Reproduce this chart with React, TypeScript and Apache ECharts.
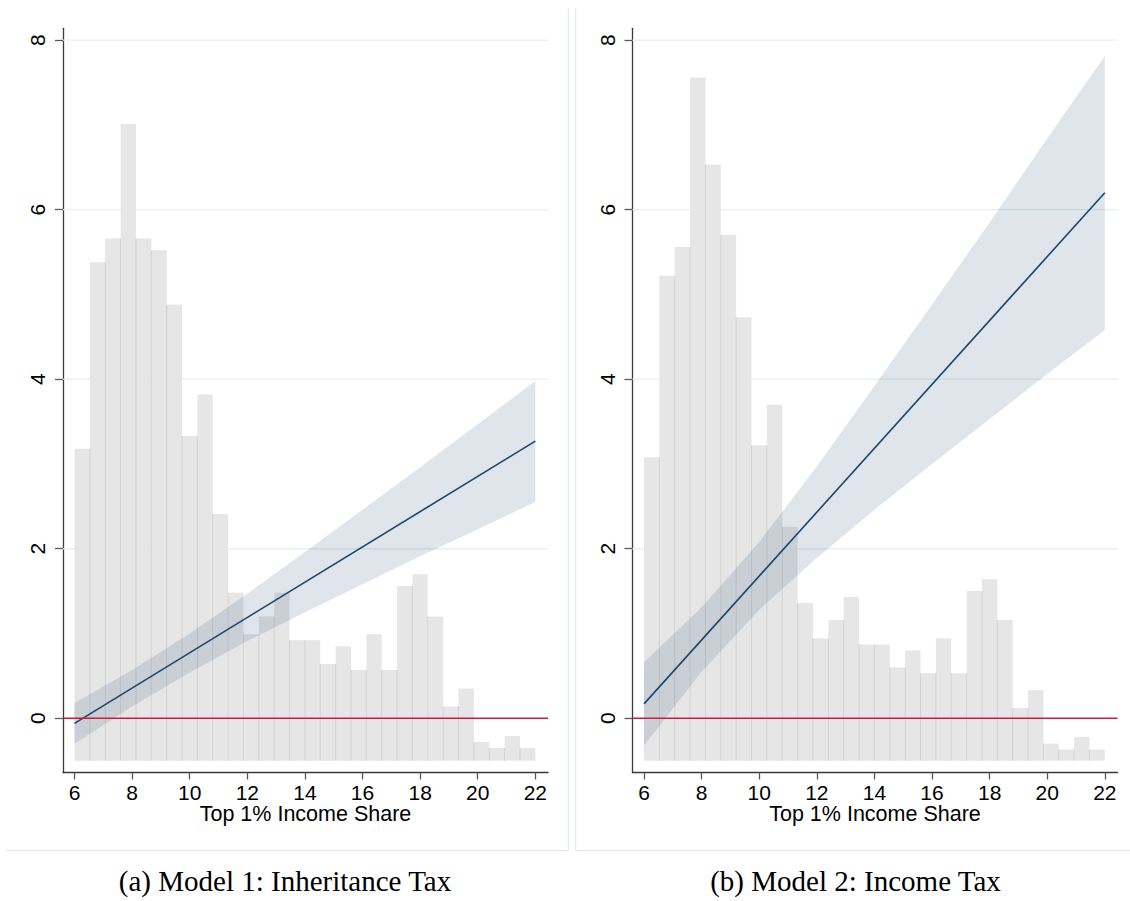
import React, { useEffect, useRef } from "react";
import * as echarts from "echarts";

// ---------- data ----------
const X_TICKS = [6, 8, 10, 12, 14, 16, 18, 20, 22];
const Y_TICKS = [0, 2, 4, 6, 8];
const GRID_VALUES = [2, 4, 6, 8];
const X_MIN = 5.6;
const X_MAX = 22.44;
const Y_MIN = -0.64;
const Y_MAX = 8.14;

const BIN_START = 6;
const BIN_WIDTH = 16 / 30;
const HIST_BASE = -0.5;

const histA = [3.18, 5.38, 5.66, 7.01, 5.66, 5.52, 4.88, 3.33, 3.82, 2.41, 1.48, 0.99, 1.2, 1.48, 0.92, 0.92, 0.64, 0.85, 0.57, 0.99, 0.57, 1.56, 1.7, 1.2, 0.14, 0.35, -0.28, -0.35, -0.21, -0.35];
const histB = [3.08, 5.22, 5.56, 7.56, 6.53, 5.7, 4.73, 3.22, 3.7, 2.26, 1.36, 0.94, 1.16, 1.43, 0.87, 0.87, 0.6, 0.8, 0.53, 0.94, 0.53, 1.5, 1.64, 1.16, 0.12, 0.33, -0.3, -0.37, -0.22, -0.37];

const fitA = [[6, -0.06], [22, 3.27]];
const fitB = [[6, 0.17], [22, 6.2]];

const bandX = [6, 8, 10, 12, 14, 16, 18, 20, 22];
const bandAUpper = [0.18, 0.57, 1.0, 1.47, 1.96, 2.46, 2.96, 3.47, 3.98];
const bandALower = [-0.3, 0.14, 0.54, 0.91, 1.25, 1.58, 1.91, 2.23, 2.55];
const bandBUpper = [0.66, 1.31, 2.08, 2.97, 3.92, 4.88, 5.85, 6.84, 7.81];
const bandBLower = [-0.32, 0.55, 1.28, 1.89, 2.46, 3.0, 3.53, 4.06, 4.58];

const REF_LINE = 0;
const X_TITLE = "Top 1% Income Share";
const CAPTION_A = "(a) Model 1: Inheritance Tax";
const CAPTION_B = "(b) Model 2: Income Tax";

// ---------- styles ----------
const SANS = "'Liberation Sans', Arial, Helvetica, sans-serif";
const SERIF = "'Liberation Serif', 'Times New Roman', serif";
const AXIS_COLOR = "#3a3a3a";
const TICK_COLOR = "#5a5a5a";
const GRID_COLOR = "#e8eff1";
const BAR_FILL = "#e6e6e6";
const BAR_EDGE = "#d2d2d2";
const BAND_FILL = "rgba(26,71,111,0.14)";
const LINE_COLOR = "#1a476f";
const RED = "#cd1c44";
const FRAME = "#e3eaed";

function makeAxes(gridIndex: number) {
  const x = {
    type: "value",
    gridIndex,
    min: X_MIN,
    max: X_MAX,
    axisLine: { show: true, onZero: false, lineStyle: { color: AXIS_COLOR, width: 1.3 } },
    axisTick: { show: true, length: 7, customValues: X_TICKS, lineStyle: { color: TICK_COLOR, width: 1.3 } },
    axisLabel: { show: true, customValues: X_TICKS, fontSize: 21, margin: 9, color: "#000", fontFamily: SANS },
    splitLine: { show: false },
    name: X_TITLE,
    nameLocation: "middle",
    nameGap: 30,
    nameMoveOverlap: false,
    nameTextStyle: { fontSize: 21.5, color: "#000", fontFamily: SANS },
  };
  const y = {
    type: "value",
    gridIndex,
    min: Y_MIN,
    max: Y_MAX,
    axisLine: { show: true, onZero: false, lineStyle: { color: AXIS_COLOR, width: 1.3 } },
    axisTick: { show: true, length: 8, customValues: Y_TICKS, lineStyle: { color: TICK_COLOR, width: 1.3 } },
    axisLabel: { show: true, customValues: Y_TICKS, rotate: 90, fontSize: 21, margin: 15, color: "#000", fontFamily: SANS },
    splitLine: { show: false },
  };
  return { x, y };
}

function makeSeries(idx: number, hist: number[], fit: number[][], up: number[], lo: number[]) {
  const grid = {
    type: "custom",
    xAxisIndex: idx,
    yAxisIndex: idx,
    z: 1,
    silent: true,
    data: GRID_VALUES.map((v) => [v]),
    renderItem: (params: any, api: any) => {
      const v = api.value(0);
      const a = api.coord([X_MIN, v]);
      const b = api.coord([X_MAX, v]);
      return { type: "line", shape: { x1: a[0], y1: a[1], x2: b[0], y2: b[1] }, style: { stroke: GRID_COLOR, lineWidth: 1.3 } };
    },
  };
  const bars = {
    type: "custom",
    xAxisIndex: idx,
    yAxisIndex: idx,
    z: 2,
    silent: true,
    data: hist.map((v, i) => [i, v]),
    renderItem: (params: any, api: any) => {
      const i = api.value(0);
      const v = api.value(1);
      const x0 = BIN_START + i * BIN_WIDTH;
      const x1 = x0 + BIN_WIDTH;
      const p0 = api.coord([x0, HIST_BASE]);
      const p1 = api.coord([x1, v]);
      const children: any[] = [
        {
          type: "rect",
          shape: { x: p0[0], y: p1[1], width: p1[0] - p0[0], height: p0[1] - p1[1] },
          style: { fill: BAR_FILL },
        },
      ];
      if (i > 0) {
        const m = Math.min(v, hist[i - 1]);
        const e = api.coord([x0, m]);
        children.push({
          type: "line",
          shape: { x1: p0[0], y1: p0[1], x2: e[0], y2: e[1] },
          style: { stroke: BAR_EDGE, lineWidth: 1 },
        });
      }
      return { type: "group", children };
    },
  };
  const band = {
    type: "custom",
    xAxisIndex: idx,
    yAxisIndex: idx,
    z: 3,
    silent: true,
    data: [[0]],
    renderItem: (params: any, api: any) => {
      const pts: number[][] = [];
      for (let k = 0; k < bandX.length; k++) pts.push(api.coord([bandX[k], up[k]]));
      for (let k = bandX.length - 1; k >= 0; k--) pts.push(api.coord([bandX[k], lo[k]]));
      return { type: "polygon", shape: { points: pts }, style: { fill: BAND_FILL } };
    },
  };
  const line = {
    type: "line",
    xAxisIndex: idx,
    yAxisIndex: idx,
    z: 4,
    silent: true,
    symbol: "none",
    data: fit,
    lineStyle: { color: LINE_COLOR, width: 1.6 },
  };
  const red = {
    type: "line",
    xAxisIndex: idx,
    yAxisIndex: idx,
    z: 5,
    silent: true,
    symbol: "none",
    data: [[X_MIN, REF_LINE], [X_MAX, REF_LINE]],
    lineStyle: { color: RED, width: 1.7 },
  };
  return [grid, bars, band, line, red];
}

export default function App() {
  const ref = useRef<HTMLDivElement>(null);
  useEffect(() => {
    if (!ref.current) return;
    const chart = echarts.init(ref.current, undefined, { renderer: "svg" });
    const a0 = makeAxes(0);
    const a1 = makeAxes(1);
    chart.setOption({
      animation: false,
      backgroundColor: "#ffffff",
      grid: [
        { left: 63, top: 28.3, width: 485, height: 744.2 },
        { left: 632.5, top: 28.3, width: 485, height: 744.2 },
      ],
      xAxis: [a0.x, a1.x],
      yAxis: [a0.y, a1.y],
      series: [
        ...makeSeries(0, histA, fitA, bandAUpper, bandALower),
        ...makeSeries(1, histB, fitB, bandBUpper, bandBLower),
      ],
      graphic: [
        { type: "line", shape: { x1: 568.3, y1: 8, x2: 568.3, y2: 850.7 }, style: { stroke: FRAME, lineWidth: 1.2 }, silent: true },
        { type: "line", shape: { x1: 575.7, y1: 8, x2: 575.7, y2: 850.7 }, style: { stroke: FRAME, lineWidth: 1.2 }, silent: true },
        { type: "line", shape: { x1: 6, y1: 850.7, x2: 568.3, y2: 850.7 }, style: { stroke: FRAME, lineWidth: 1.2 }, silent: true },
        { type: "line", shape: { x1: 575.7, y1: 850.7, x2: 1130, y2: 850.7 }, style: { stroke: FRAME, lineWidth: 1.2 }, silent: true },
        {
          type: "text",
          x: 285,
          y: 881,
          style: { text: CAPTION_A, fontSize: 29, fontFamily: SERIF, fill: "#000", textAlign: "center", textVerticalAlign: "middle" },
          silent: true,
        },
        {
          type: "text",
          x: 855.5,
          y: 881,
          style: { text: CAPTION_B, fontSize: 29, fontFamily: SERIF, fill: "#000", textAlign: "center", textVerticalAlign: "middle" },
          silent: true,
        },
      ],
    });
    return () => chart.dispose();
  }, []);
  return <div ref={ref} style={{ position: "absolute", left: 0, top: 0, width: 1130, height: 901 }} />;
}
